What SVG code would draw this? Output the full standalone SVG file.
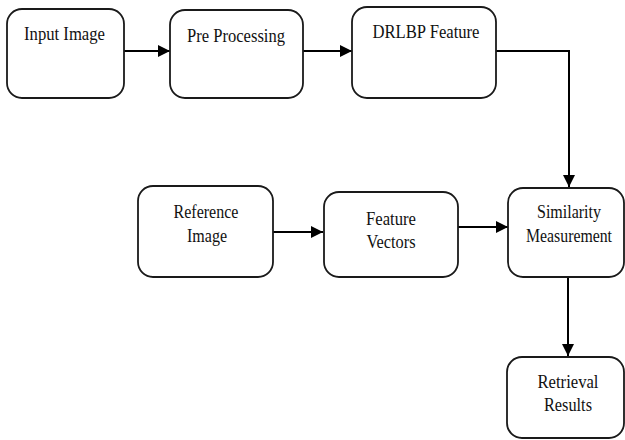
<svg xmlns="http://www.w3.org/2000/svg" width="625" height="440" viewBox="0 0 625 440">
<style>
.box{fill:#fff;stroke:#1a1a1a;stroke-width:1.8}
.lbl{font-size:18px;fill:#111;text-anchor:middle}
.edge{fill:none;stroke:#000;stroke-width:2}
</style>
<defs>
<marker id="ah" markerWidth="12" markerHeight="12" refX="12" refY="6" orient="auto" markerUnits="userSpaceOnUse">
<path d="M0,0 L12,6 L0,12 Z" fill="#000"/>
</marker>
</defs>
<rect width="625" height="440" fill="#fff"/>
<g id="connectors">
<path class="edge" d="M124,51 H170" marker-end="url(#ah)"/>
<path class="edge" d="M303,51 H352" marker-end="url(#ah)"/>
<path class="edge" d="M496,51 H569 V187" marker-end="url(#ah)"/>
<path class="edge" d="M273,232 H323" marker-end="url(#ah)"/>
<path class="edge" d="M458,227 H508" marker-end="url(#ah)"/>
<path class="edge" d="M568,277 V356" marker-end="url(#ah)"/>
</g>
<g font-family="'Liberation Serif', 'Times New Roman', serif">
<g id="input-image">
<rect class="box" x="7" y="9" width="117" height="89" rx="15"/>
<text class="lbl" x="64.5" y="40" textLength="81" lengthAdjust="spacingAndGlyphs">Input Image</text>
</g>
<g id="pre-processing">
<rect class="box" x="170" y="10" width="133" height="88" rx="15"/>
<text class="lbl" x="236" y="42" textLength="98" lengthAdjust="spacingAndGlyphs">Pre Processing</text>
</g>
<g id="drlbp-feature">
<rect class="box" x="352" y="7" width="144" height="91" rx="15"/>
<text class="lbl" x="426" y="38" textLength="107" lengthAdjust="spacingAndGlyphs">DRLBP Feature</text>
</g>
<g id="reference-image">
<rect class="box" x="138" y="186" width="135" height="91" rx="15"/>
<text class="lbl" x="206" y="218" textLength="65" lengthAdjust="spacingAndGlyphs">Reference</text>
<text class="lbl" x="207" y="242" textLength="40" lengthAdjust="spacingAndGlyphs">Image</text>
</g>
<g id="feature-vectors">
<rect class="box" x="324" y="192" width="134" height="85" rx="15"/>
<text class="lbl" x="391" y="225" textLength="50" lengthAdjust="spacingAndGlyphs">Feature</text>
<text class="lbl" x="391" y="248" textLength="49" lengthAdjust="spacingAndGlyphs">Vectors</text>
</g>
<g id="similarity-measurement">
<rect class="box" x="508" y="188" width="116" height="89" rx="15"/>
<text class="lbl" x="569" y="218" textLength="64" lengthAdjust="spacingAndGlyphs">Similarity</text>
<text class="lbl" x="569" y="242" textLength="86" lengthAdjust="spacingAndGlyphs">Measurement</text>
</g>
<g id="retrieval-results">
<rect class="box" x="507" y="357" width="117" height="81" rx="15"/>
<text class="lbl" x="568" y="388" textLength="61" lengthAdjust="spacingAndGlyphs">Retrieval</text>
<text class="lbl" x="568" y="411" textLength="48" lengthAdjust="spacingAndGlyphs">Results</text>
</g>
</g>
</svg>
